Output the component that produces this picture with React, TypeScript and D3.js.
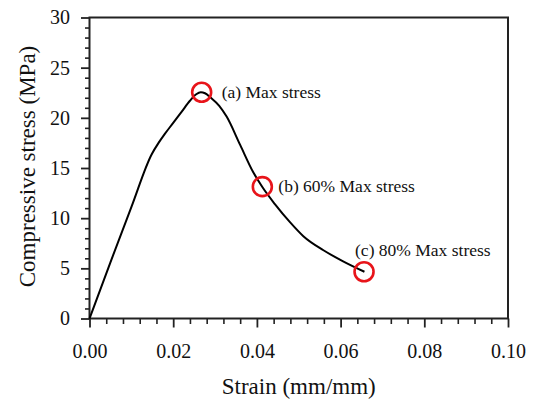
import { useEffect, useRef } from "react";
import * as d3 from "d3";

// stress-strain curve
const strain = [0, 0.005, 0.01, 0.0149, 0.0165, 0.018, 0.02, 0.022, 0.024, 0.0255, 0.0266, 0.0276, 0.029, 0.031, 0.0328, 0.036, 0.0391, 0.0413, 0.0443, 0.0479, 0.0511, 0.0559, 0.0606, 0.0657];
const stress = [0, 5.6, 11.1, 16.4, 17.5, 18.4, 19.5, 20.6, 21.7, 22.35, 22.55, 22.45, 22.0, 21.2, 20.1, 17.3, 14.6, 13.1, 11.4, 9.6, 8.2, 6.8, 5.7, 4.66];

// marked points
const markStrain = [0.0268, 0.0413, 0.0656];
const markStress = [22.55, 13.14, 4.66];
const markLabels = ["(a) Max stress", "(b) 60% Max stress", "(c) 80% Max stress"];

const xTicks = [0, 0.02, 0.04, 0.06, 0.08, 0.1];
const yTicks = [0, 5, 10, 15, 20, 25, 30];

// label offsets from circle centre (px)
const labelDx = [20, 16, -9];
const labelDy = [0, 0, -22];

export default function App() {
  const ref = useRef<SVGSVGElement>(null);

  useEffect(() => {
    const width = 533, height = 399;
    const margin = { top: 17.5, right: 25, bottom: 80.5, left: 89.5 };
    const font = "'Liberation Serif', 'Times New Roman', serif";

    const svg = d3.select(ref.current);
    svg.selectAll("*").remove();

    const x = d3.scaleLinear().domain([0, 0.1]).range([margin.left, width - margin.right]);
    const y = d3.scaleLinear().domain([0, 30]).range([height - margin.bottom, margin.top]);

    // minor ticks
    const xMinor = d3.range(0, 0.1001, 0.004).filter((v) => Math.abs(v / 0.02 - Math.round(v / 0.02)) > 1e-6);
    const yMinor = d3.range(0, 31, 1).filter((v) => v % 5 !== 0);

    svg.append("g")
      .attr("transform", `translate(0,${y(0)})`)
      .call(d3.axisBottom(x).tickValues(xMinor).tickSize(5.5).tickFormat(() => ""))
      .call((g) => g.select(".domain").remove())
      .selectAll("line").attr("stroke", "#222").attr("stroke-width", 1.6);

    svg.append("g")
      .attr("transform", `translate(${x(0)},0)`)
      .call(d3.axisLeft(y).tickValues(yMinor).tickSize(4.5).tickFormat(() => ""))
      .call((g) => g.select(".domain").remove())
      .selectAll("line").attr("stroke", "#222").attr("stroke-width", 1.6);

    // major ticks + labels
    const gx = svg.append("g")
      .attr("transform", `translate(0,${y(0)})`)
      .call(d3.axisBottom(x).tickValues(xTicks).tickSize(9).tickPadding(16).tickFormat(d3.format(".2f")));
    gx.select(".domain").remove();
    gx.selectAll("line").attr("stroke", "#222").attr("stroke-width", 1.8);
    gx.selectAll("text").attr("font-family", font).attr("font-size", 20).attr("fill", "#111");

    const gy = svg.append("g")
      .attr("transform", `translate(${x(0)},0)`)
      .call(d3.axisLeft(y).tickValues(yTicks).tickSize(8.5).tickPadding(11));
    gy.select(".domain").remove();
    gy.selectAll("line").attr("stroke", "#222").attr("stroke-width", 1.8);
    gy.selectAll("text").attr("font-family", font).attr("font-size", 20).attr("fill", "#111");

    // frame
    svg.append("rect")
      .attr("x", x(0)).attr("y", y(30))
      .attr("width", x(0.1) - x(0)).attr("height", y(0) - y(30))
      .attr("fill", "none").attr("stroke", "#222").attr("stroke-width", 2);

    // curve
    const line = d3.line<number>()
      .x((d, i) => x(strain[i]))
      .y((d) => y(d))
      .curve(d3.curveMonotoneX);
    svg.append("path")
      .attr("d", line(stress))
      .attr("fill", "none").attr("stroke", "#000").attr("stroke-width", 2);

    // circles
    svg.selectAll("circle.mark")
      .data(markStrain)
      .enter()
      .append("circle")
      .attr("cx", (d) => x(d))
      .attr("cy", (d, i) => y(markStress[i]))
      .attr("r", 9.5)
      .attr("fill", "none").attr("stroke", "#e8141a").attr("stroke-width", 2.6);

    svg.selectAll("text.mark")
      .data(markLabels)
      .enter()
      .append("text")
      .attr("x", (d, i) => x(markStrain[i]) + labelDx[i])
      .attr("y", (d, i) => y(markStress[i]) + labelDy[i])
      .attr("dy", "0.33em")
      .attr("font-family", font).attr("font-size", 17.5).attr("fill", "#111")
      .text((d) => d);

    // axis titles
    svg.append("text")
      .attr("x", (x(0) + x(0.1)) / 2).attr("y", 393.5)
      .attr("text-anchor", "middle")
      .attr("font-family", font).attr("font-size", 23).attr("fill", "#111")
      .text("Strain (mm/mm)");

    svg.append("text")
      .attr("transform", "translate(35,166.5) rotate(-90)")
      .attr("text-anchor", "middle")
      .attr("font-family", font).attr("font-size", 23).attr("fill", "#111")
      .text("Compressive stress (MPa)");
  }, []);

  return (
    <svg ref={ref} width={533} height={399}
      style={{ position: "absolute", left: 0, top: 0, background: "#fff" }} />
  );
}
